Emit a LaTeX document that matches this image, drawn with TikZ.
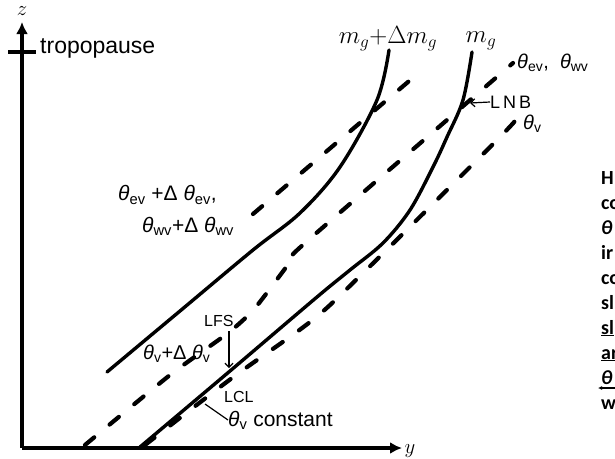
\documentclass[tikz,border=0pt]{standalone}
\usepackage{fontspec}
\setmainfont{Liberation Sans}
\newfontfamily\rfont{Carlito}
\usetikzlibrary{arrows.meta}
\newcommand{\myth}[1]{\textit{θ}\textsubscript{#1}}
\tikzset{
  axisline/.style={line width=3.2pt},
  solidc/.style={line width=3.4pt, line cap=round},
  dashc/.style={line width=4.2pt, dash pattern=on 12pt off 20pt, line cap=round},
  lbl/.style={inner sep=0pt, anchor=west},
  rtext/.style={inner sep=0pt, anchor=base west, font=\rfont\bfseries\fontsize{20}{22}\selectfont},
}
\begin{document}
\begin{tikzpicture}[x=1pt,y=-1pt]
\useasboundingbox (0,0) rectangle (615,458);
\clip (0,0) rectangle (615,458);
% axes
\coordinate (O) at (22,448);
\coordinate (ztip) at (22,22);
\coordinate (ytip) at (402,448);
\coordinate (tl) at (8,52);
\coordinate (tr) at (36,52);
\draw[axisline,-{Latex[length=12pt,width=12pt]}] (O) -- (ztip);
\draw[axisline,-{Latex[length=12pt,width=12pt]}] (O) -- (ytip);
\draw[axisline] (tl) -- (tr);
\node (zlab) at (22,11) {\fontsize{22}{24}\selectfont $z$};
\node (ylab) at (410,451) {\fontsize{22}{24}\selectfont $y$};
\node[lbl] (trop) at (40,48) {\fontsize{23}{26}\selectfont tropopause};
% solid curves
\draw[solidc] plot[smooth, tension=0.55] coordinates {(107,372) (180,311) (253,250) (300,213) (340,167) (377,100) (389,50)};
\draw[solidc] plot[smooth, tension=0.55] coordinates {(140,447) (230,371) (317,297) (350,270) (383,243) (410,210) (433,167) (447,137) (463,100) (472,52)};
% dashed curves
\draw[dashc] plot[smooth, tension=0.5] coordinates {(145,445) (232,378) (310,322) (358,278) (497,140) (517,118)};
\draw[dashc] plot[smooth, tension=0.4] coordinates {(85,445) (170,375) (228,333) (255,308) (293,258) (305,243) (513,63)};
\draw[dashc] (253,214) -- (415,76);
% labels
\node (mgd) at (388,39) {\fontsize{24}{26}\selectfont $m_g{+}\Delta m_g$};
\node (mg) at (481,41) {\fontsize{24}{26}\selectfont $m_g$};
\node[lbl] (thew) at (517,63) {\fontsize{20}{22}\selectfont \myth{ev},\ \ \myth{wv}};
\node[lbl] (lnb) at (490,102) {\fontsize{18}{20}\selectfont L\,N\,B};
\coordinate (lnbtip) at (470,103);
\draw[line width=1.2pt,-{Straight Barb[length=4pt]}] (lnb.west) -- (lnbtip);
\node[lbl] (thv) at (523,124) {\fontsize{20}{22}\selectfont \myth{v}};
\node[lbl] (ev1) at (118,195) {\fontsize{21}{23}\selectfont \myth{ev} +Δ \myth{ev},};
\node[lbl] (wv1) at (142,226) {\fontsize{21}{23}\selectfont \myth{wv}+Δ \myth{wv}};
\node[lbl] (lfs) at (204,321) {\fontsize{16}{18}\selectfont LFS};
\coordinate (lfstip) at (229,368);
\draw[line width=1.2pt,-{Straight Barb[length=4pt]}] (229,331) -- (lfstip);
\node[lbl] (tvd) at (143,354) {\fontsize{20}{22}\selectfont \myth{v}+Δ \myth{v}};
\node[lbl] (lcl) at (224,397) {\fontsize{16}{18}\selectfont LCL};
\node[lbl] (tvc) at (228,420) {\fontsize{21}{23}\selectfont \myth{v} constant};
\coordinate (lead) at (205,404);
\draw[line width=1.2pt] (lead) -- (tvc.west);
% clipped right text
\node[rtext] (r1) at (601,184) {H};
\node[rtext] (r2) at (601,209) {co};
\node[rtext] (r3) at (601,234) {\textit{θ}};
\node[rtext] (r4) at (601,259) {ir};
\node[rtext] (r5) at (601,284) {co};
\node[rtext] (r6) at (601,309) {sl};
\node[rtext] (r7) at (601,334) {\underline{sl}};
\node[rtext] (r8) at (601,359) {\underline{ar}};
\node[rtext] (r9) at (601,384) {\textit{θ}};
\coordinate (ua) at (598,388);
\coordinate (ub) at (615,388);
\draw[line width=1.8pt,-{Latex[length=4pt,width=4pt]}] (ub) -- (ua);
\node[rtext] (r10) at (601,409) {w};
\end{tikzpicture}
\end{document}
